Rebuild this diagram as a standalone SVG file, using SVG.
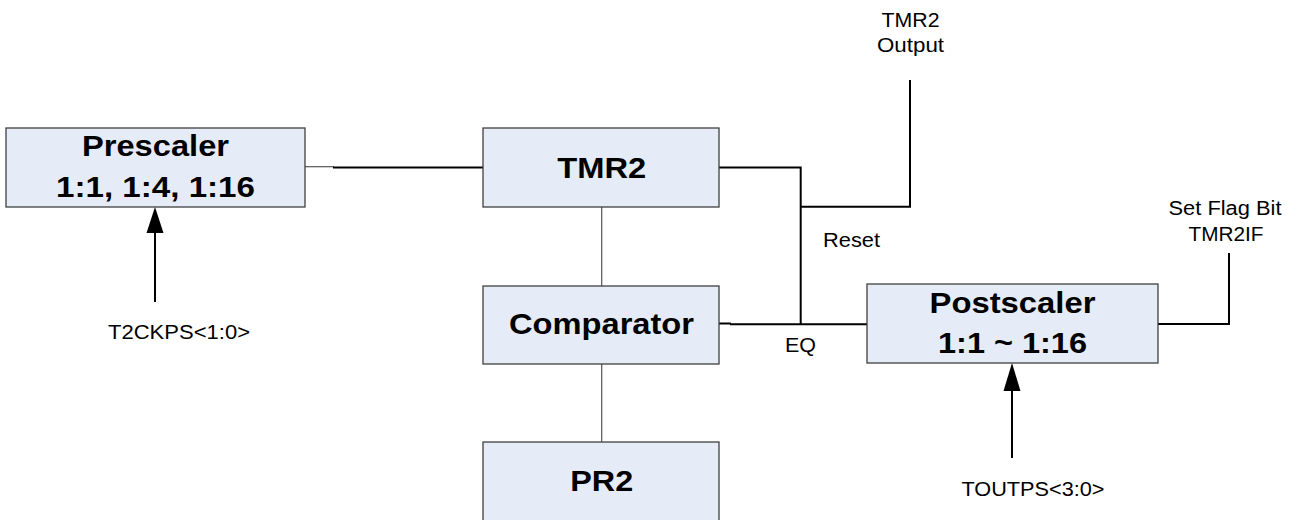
<svg xmlns="http://www.w3.org/2000/svg" width="1294" height="520" viewBox="0 0 1294 520">
  <defs>
    <style>
      .box { fill: #E5ECF7; stroke: #404040; stroke-width: 1.3; }
      .big { font-family: "Liberation Sans", Arial, sans-serif; font-weight: bold; font-size: 30px; fill: #000; text-anchor: middle; }
      .small { font-family: "Liberation Sans", Arial, sans-serif; font-size: 20px; fill: #000; text-anchor: middle; }
      .smallL { font-family: "Liberation Sans", Arial, sans-serif; font-size: 20px; fill: #000; text-anchor: start; }
      .wire { fill: none; stroke: #000; stroke-width: 2; }
      .thin { fill: none; stroke: #555; stroke-width: 1.2; }
      .head { fill: #000; }
    </style>
  </defs>
  <rect width="1294" height="520" fill="#fff"/>

  <g id="connectors">
    <line class="thin" x1="305" y1="166.7" x2="334" y2="166.7"/>
    <line class="wire" x1="333" y1="167.5" x2="483" y2="167.5"/>
    <path class="wire" d="M719 167.5 H800.7 V324.3"/>
    <path class="wire" d="M800.7 206.7 H910 V80"/>
    <line class="wire" x1="719" y1="323.5" x2="731" y2="323.5"/>
    <line class="wire" x1="730" y1="324.3" x2="867" y2="324.3"/>
    <path class="wire" d="M1158 324 H1229 V253"/>
    <line class="thin" x1="601.7" y1="207" x2="601.7" y2="286"/>
    <line class="thin" x1="601.7" y1="364" x2="601.7" y2="442"/>
    <line class="wire" x1="155" y1="232" x2="155" y2="302"/>
    <polygon class="head" points="155,207 146.5,233 163.5,233"/>
    <line class="wire" x1="1012" y1="390" x2="1012" y2="458"/>
    <polygon class="head" points="1012,363 1003.5,391 1020.5,391"/>
  </g>

  <g id="prescaler">
    <rect class="box" x="6" y="128" width="299" height="79"/>
    <text class="big" x="155.5" y="156" textLength="147" lengthAdjust="spacingAndGlyphs">Prescaler</text>
    <text class="big" x="155.5" y="196.5" textLength="199" lengthAdjust="spacingAndGlyphs">1:1, 1:4, 1:16</text>
  </g>

  <g id="tmr2">
    <rect class="box" x="483" y="128" width="236" height="79"/>
    <text class="big" x="601.7" y="178" textLength="89" lengthAdjust="spacingAndGlyphs">TMR2</text>
  </g>

  <g id="comparator">
    <rect class="box" x="483" y="286" width="236" height="78"/>
    <text class="big" x="601.5" y="334" textLength="185" lengthAdjust="spacingAndGlyphs">Comparator</text>
  </g>

  <g id="pr2">
    <rect class="box" x="483" y="442" width="236" height="100"/>
    <text class="big" x="601.7" y="491" textLength="63" lengthAdjust="spacingAndGlyphs">PR2</text>
  </g>

  <g id="postscaler">
    <rect class="box" x="867" y="284" width="291" height="79"/>
    <text class="big" x="1012.5" y="312.5" textLength="166" lengthAdjust="spacingAndGlyphs">Postscaler</text>
    <text class="big" x="1012.5" y="352.5" textLength="149" lengthAdjust="spacingAndGlyphs">1:1 ~ 1:16</text>
  </g>

  <g id="labels">
    <text class="small" x="910.5" y="27" textLength="58" lengthAdjust="spacingAndGlyphs">TMR2</text>
    <text class="small" x="910.5" y="52" textLength="67" lengthAdjust="spacingAndGlyphs">Output</text>
    <text class="smallL" x="823" y="247" textLength="57" lengthAdjust="spacingAndGlyphs">Reset</text>
    <text class="smallL" x="785" y="352" textLength="31" lengthAdjust="spacingAndGlyphs">EQ</text>
    <text class="small" x="1225" y="215" textLength="113" lengthAdjust="spacingAndGlyphs">Set Flag Bit</text>
    <text class="small" x="1226" y="241" textLength="75" lengthAdjust="spacingAndGlyphs">TMR2IF</text>
    <text class="small" x="179" y="339" textLength="142" lengthAdjust="spacingAndGlyphs">T2CKPS&lt;1:0&gt;</text>
    <text class="small" x="1033" y="496" textLength="143" lengthAdjust="spacingAndGlyphs">TOUTPS&lt;3:0&gt;</text>
  </g>
</svg>
